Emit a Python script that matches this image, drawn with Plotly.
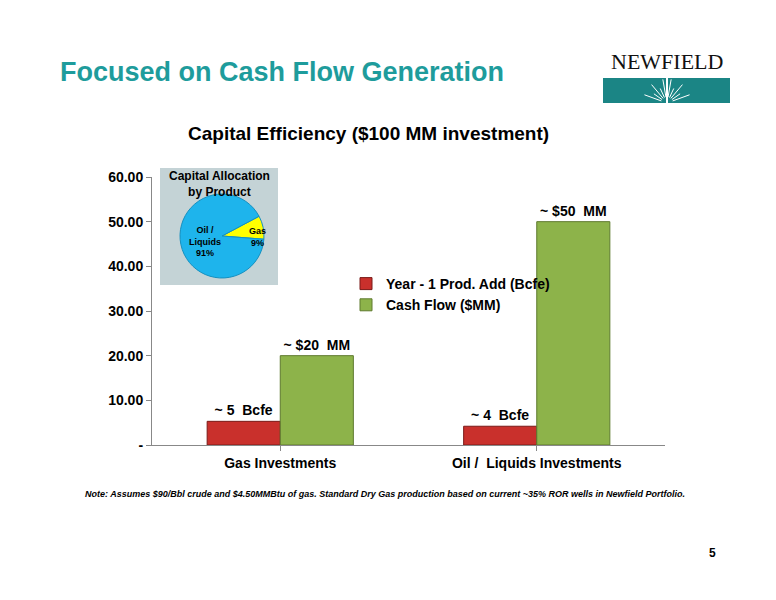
import plotly.graph_objects as go
import math

categories = ["Gas Investments", "Oil /  Liquids Investments"]
prod_add = [5.3, 4.2]
cash_flow = [20.0, 50.0]
prod_labels = ["<b>~ 5  Bcfe</b>", "<b>~ 4  Bcfe</b>"]
cash_labels = ["<b>~ $20  MM</b>", "<b>~ $50  MM</b>"]
pie_labels = ["Gas<br>9%", "Oil /<br>Liquids<br>91%"]
pie_values = [9, 91]
yticks = [0, 10, 20, 30, 40, 50, 60]
yticktext = ["<b>-</b>", "<b>10.00</b>", "<b>20.00</b>", "<b>30.00</b>", "<b>40.00</b>", "<b>50.00</b>", "<b>60.00</b>"]

F = "Liberation Sans, Arial, sans-serif"
OFF = 8
L, R, T, B = 152, 665, 177, 445
W, H = 776 - OFF, 600 - OFF


def px(x):
    return (x - L) / (R - L)


def py(y):
    return (B - y) / (B - T)


fig = go.Figure()
fig.add_trace(go.Bar(x=categories, y=prod_add, name="<b>Year - 1 Prod. Add (Bcfe)</b>",
                     marker=dict(color="#C9302C", line=dict(color="#7A1A18", width=1)),
                     text=prod_labels, textposition="outside",
                     textfont=dict(size=14, color="black", family=F), cliponaxis=False))
fig.add_trace(go.Bar(x=categories, y=cash_flow, name="<b>Cash Flow ($MM)</b>",
                     marker=dict(color="#8DB34A", line=dict(color="#5E7A2E", width=1)),
                     text=cash_labels, textposition="outside",
                     textfont=dict(size=14, color="black", family=F), cliponaxis=False))
fig.add_trace(go.Pie(labels=pie_labels, values=pie_values, sort=False, direction="clockwise",
                     rotation=62, textinfo="none",
                     marker=dict(colors=["#FFFF00", "#1EB4EC"], line=dict(color="#1590C0", width=1)),
                     domain=dict(x=[px(180), px(264)], y=[py(279), py(193)]), showlegend=False,
                     hoverinfo="skip"))

shapes = [
    dict(type="rect", xref="paper", yref="paper", x0=px(160), x1=px(278), y0=py(285), y1=py(168),
         fillcolor="#C4D3D6", line=dict(width=0), layer="below"),
    dict(type="rect", xref="paper", yref="paper", x0=px(603), x1=px(730), y0=py(103), y1=py(78),
         fillcolor="#1B8585", line=dict(width=0)),
    dict(type="line", xref="paper", yref="paper", x0=px(667), x1=px(667), y0=py(103), y1=py(78),
         line=dict(color="white", width=2)),
]
cx, cy = 667, 103
for ang in [20, 35, 50, 65, 80, 100, 115, 130, 145, 160]:
    a = math.radians(ang)
    r0, r1 = 6, 24 if ang % 2 == 0 else 16
    shapes.append(dict(type="line", xref="paper", yref="paper",
                       x0=px(cx + r0 * math.cos(a)), y0=py(cy - r0 * math.sin(a)),
                       x1=px(cx + r1 * math.cos(a)), y1=py(cy - r1 * math.sin(a)),
                       line=dict(color="white", width=1)))

fig.update_layout(
    width=W, height=H, paper_bgcolor="white", plot_bgcolor="white",
    margin=dict(l=L - OFF, r=W - (R - OFF), t=T - OFF, b=H - (B - OFF)),
    barmode="group", bargap=0.43, bargroupgap=0.0,
    font=dict(family=F, color="black"),
    xaxis=dict(showline=True, linecolor="#888", ticks="outside", tickcolor="#888",
               tickfont=dict(size=14), showgrid=False, tickprefix="<b>", ticksuffix="</b>"),
    yaxis=dict(range=[0, 60], tickvals=yticks, ticktext=yticktext, showline=True, linecolor="#888",
               ticks="outside", tickcolor="#888", tickfont=dict(size=14), showgrid=False, zeroline=False),
    legend=dict(x=px(346), y=py(268), xanchor="left", yanchor="top", font=dict(size=14),
                bgcolor="rgba(0,0,0,0)", itemwidth=30),
    shapes=shapes,
    annotations=[
        dict(text="<b>Focused on Cash Flow Generation</b>", xref="paper", yref="paper",
             x=px(58), y=py(72), xanchor="left", yanchor="middle", showarrow=False,
             font=dict(size=27, color="#1E9C9C", family=F)),
        dict(text="<b>Capital Efficiency ($100 MM investment)</b>", xref="paper", yref="paper",
             x=px(368), y=py(133), xanchor="center", yanchor="middle", showarrow=False,
             font=dict(size=19, family=F)),
        dict(text="<b>Capital Allocation<br>by Product</b>", xref="paper", yref="paper",
             x=px(219), y=py(184), xanchor="center", yanchor="middle", showarrow=False,
             font=dict(size=12, family=F)),
        dict(text="<b>" + pie_labels[1] + "</b>", xref="paper", yref="paper",
             x=px(205), y=py(241), xanchor="center", yanchor="middle", showarrow=False,
             font=dict(size=9, family=F)),
        dict(text="<b>" + pie_labels[0] + "</b>", xref="paper", yref="paper",
             x=px(257), y=py(237), xanchor="center", yanchor="middle", showarrow=False,
             font=dict(size=9, family=F)),
        dict(text="NEWFIELD", xref="paper", yref="paper", x=px(667), y=py(62),
             xanchor="center", yanchor="middle", showarrow=False,
             font=dict(size=22, family="Liberation Serif, Times New Roman, serif", color="#111")),
        dict(text="<b><i>Note: Assumes $90/Bbl crude and $4.50MMBtu of gas. Standard Dry Gas production based on current ~35% ROR wells in Newfield Portfolio.</i></b>",
             xref="paper", yref="paper", x=px(385), y=py(494), xanchor="center",
             yanchor="middle", showarrow=False, font=dict(size=9, family=F)),
        dict(text="<b>5</b>", xref="paper", yref="paper", x=px(712), y=py(553),
             xanchor="center", yanchor="middle", showarrow=False, font=dict(size=12, family=F)),
    ],
)
fig.write_html("out.html")
